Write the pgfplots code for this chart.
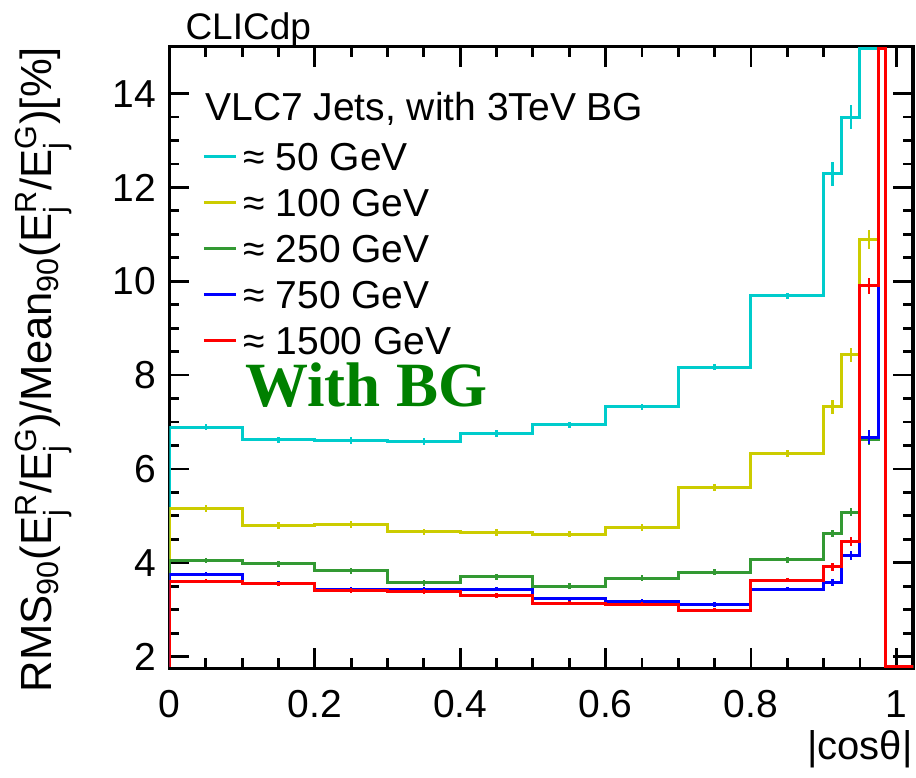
\documentclass[border=0pt]{standalone}
\usepackage{fontspec}
\setmainfont{Liberation Sans}
\newfontfamily\serifbg{Liberation Serif}
\usepackage{amsmath}
\usepackage{xcolor}
\usepackage{pgfplots}
\pgfplotsset{compat=1.18}

\definecolor{rcyan}{RGB}{0,204,204}
\definecolor{ryellow}{RGB}{204,204,0}
\definecolor{rgreen}{RGB}{51,153,51}
\definecolor{bggreen}{RGB}{0,128,0}
\newcommand\bigf{\fontsize{19.5}{22}\selectfont}

\pgfplotsset{
    errs/.style={mark=none, draw=none, forget plot,
        error bars/.cd, y dir=both, y explicit, error mark=none,
        error bar style={draw=#1, line width=1.3pt}},
}

\begin{document}
\begin{tikzpicture}
\begin{axis}[
    scale only axis,
    width=371.75pt, height=310.8pt,
    clip mode=individual,
    xmin=0, xmax=1.023,
    ymin=1.75, ymax=15,
    xtick={0,0.2,0.4,0.6,0.8,1},
    ytick={2,4,6,8,10,12,14},
    minor x tick num=3, minor y tick num=3,
    tick align=inside, tick pos=both,
    major tick length=10pt, minor tick length=5pt,
    tick style={black, line width=1.4pt},
    axis line style={line width=1.6pt},
    /pgf/number format/assume math mode=true,
    ticklabel style={font=\bigf},
    xticklabel style={yshift=-7.5pt},
    yticklabel style={xshift=-3.25pt},
    xlabel={|cosθ|},
    x label style={at={(axis description cs:1,0)}, anchor=north east,
        inner sep=0pt, yshift=-31pt, font=\fontsize{20}{22}\selectfont},
    ylabel={RMS$_{\text{90}}$(E$^{\text{R}}_{\text{j}}$/E$^{\text{G}}_{\text{j}}$)/Mean$_{\text{90}}$(E$^{\text{R}}_{\text{j}}$/E$^{\text{G}}_{\text{j}}$)[\%]},
    y label style={at={(axis description cs:-0.131,1)}, anchor=south east,
        inner sep=0pt, font=\fontsize{21.8}{24}\selectfont},
    legend style={draw=none, fill=none, at={(axis description cs:0.0438,0.847)},
        anchor=north west, font=\bigf, row sep=9.0pt, column sep=3pt, inner sep=0pt,
        nodes={inner sep=0pt, text height=14pt, text depth=0pt}},
    legend cell align=left,
    legend image code/.code={\draw[#1, line width=1.5pt] (0pt,0pt)--(16pt,0pt);},
    every axis plot/.append style={line width=1.5pt},
]

% step histograms: (bin low edge, value)
\addplot[color=rcyan, const plot] coordinates {
    (0,1.78) (0,6.89) (0.1,6.62) (0.2,6.61) (0.3,6.58) (0.4,6.75) (0.5,6.94)
    (0.6,7.32) (0.7,8.17) (0.8,9.69) (0.9,12.29) (0.925,13.50) (0.95,14.97)
    (0.975,14.97) (0.985,1.78) (1.03,1.78)
};
\addlegendentry{≈ 50 GeV}

\addplot[color=ryellow, const plot] coordinates {
    (0,1.78) (0,5.16) (0.1,4.79) (0.2,4.82) (0.3,4.66) (0.4,4.64) (0.5,4.61)
    (0.6,4.75) (0.7,5.60) (0.8,6.33) (0.9,7.32) (0.925,8.43) (0.95,10.89)
    (0.975,14.97) (0.985,1.78) (1.03,1.78)
};
\addlegendentry{≈ 100 GeV}

\addplot[color=rgreen, const plot] coordinates {
    (0,1.78) (0,4.05) (0.1,3.98) (0.2,3.83) (0.3,3.57) (0.4,3.70) (0.5,3.50)
    (0.6,3.67) (0.7,3.80) (0.8,4.06) (0.9,4.62) (0.925,5.08) (0.95,6.62)
    (0.975,14.97) (0.985,1.78) (1.03,1.78)
};
\addlegendentry{≈ 250 GeV}

\addplot[color=blue, const plot] coordinates {
    (0,1.78) (0,3.76) (0.1,3.56) (0.2,3.44) (0.3,3.44) (0.4,3.44) (0.5,3.23)
    (0.6,3.17) (0.7,3.11) (0.8,3.44) (0.9,3.58) (0.925,4.15) (0.95,6.68)
    (0.975,14.97) (0.985,1.78) (1.03,1.78)
};
\addlegendentry{≈ 750 GeV}

\addplot[color=red, const plot] coordinates {
    (0,1.78) (0,3.61) (0.1,3.55) (0.2,3.41) (0.3,3.39) (0.4,3.30) (0.5,3.14)
    (0.6,3.12) (0.7,2.99) (0.8,3.63) (0.9,3.91) (0.925,4.45) (0.95,9.90)
    (0.975,14.97) (0.985,1.78) (1.03,1.78)
};
\addlegendentry{≈ 1500 GeV}

% error bars at bin centres
\addplot[errs=rcyan] coordinates {
    (0.05,6.89) +- (0,0.07) (0.15,6.62) +- (0,0.07) (0.25,6.61) +- (0,0.07)
    (0.35,6.58) +- (0,0.07) (0.45,6.75) +- (0,0.07) (0.55,6.94) +- (0,0.07)
    (0.65,7.32) +- (0,0.07) (0.75,8.17) +- (0,0.07) (0.85,9.69) +- (0,0.07)
    (0.9125,12.29) +- (0,0.25) (0.9375,13.50) +- (0,0.25)
};
\addplot[errs=ryellow] coordinates {
    (0.05,5.16) +- (0,0.07) (0.15,4.79) +- (0,0.07) (0.25,4.82) +- (0,0.07)
    (0.35,4.66) +- (0,0.07) (0.45,4.64) +- (0,0.07) (0.55,4.61) +- (0,0.07)
    (0.65,4.75) +- (0,0.07) (0.75,5.60) +- (0,0.07) (0.85,6.33) +- (0,0.07)
    (0.9125,7.32) +- (0,0.15) (0.9375,8.43) +- (0,0.15) (0.9625,10.89) +- (0,0.2)
};
\addplot[errs=rgreen] coordinates {
    (0.05,4.05) +- (0,0.06) (0.15,3.98) +- (0,0.06) (0.25,3.83) +- (0,0.06)
    (0.35,3.57) +- (0,0.06) (0.45,3.70) +- (0,0.06) (0.55,3.50) +- (0,0.06)
    (0.65,3.67) +- (0,0.06) (0.75,3.80) +- (0,0.06) (0.85,4.06) +- (0,0.06)
    (0.9125,4.62) +- (0,0.07) (0.9375,5.08) +- (0,0.08) (0.9625,6.62) +- (0,0.12)
};
\addplot[errs=blue] coordinates {
    (0.05,3.76) +- (0,0.05) (0.15,3.56) +- (0,0.05) (0.25,3.44) +- (0,0.05)
    (0.35,3.44) +- (0,0.05) (0.45,3.44) +- (0,0.05) (0.55,3.23) +- (0,0.05)
    (0.65,3.17) +- (0,0.05) (0.75,3.11) +- (0,0.05) (0.85,3.44) +- (0,0.05)
    (0.9125,3.58) +- (0,0.08) (0.9375,4.15) +- (0,0.1) (0.9625,6.68) +- (0,0.15)
};
\addplot[errs=red] coordinates {
    (0.05,3.61) +- (0,0.05) (0.15,3.55) +- (0,0.05) (0.25,3.41) +- (0,0.05)
    (0.35,3.39) +- (0,0.05) (0.45,3.30) +- (0,0.05) (0.55,3.14) +- (0,0.05)
    (0.65,3.12) +- (0,0.05) (0.75,2.99) +- (0,0.05) (0.85,3.63) +- (0,0.05)
    (0.9125,3.91) +- (0,0.08) (0.9375,4.45) +- (0,0.1) (0.9625,9.90) +- (0,0.17)
};

\node[anchor=base west, inner sep=0pt, font=\bigf]
    at (axis description cs:0.0478,0.881) {VLC7 Jets, with 3TeV BG};
\node[anchor=base west, inner sep=0pt, text=bggreen,
    font=\serifbg\bfseries\fontsize{31.5}{34}\selectfont]
    at (axis description cs:0.1016,0.4204) {With BG};
\node[anchor=base west, inner sep=0pt, yshift=3.5pt, font=\fontsize{18.5}{20}\selectfont]
    at (axis description cs:0.021,1) {CLICdp};

\coordinate (bl) at (rel axis cs:0,0);
\coordinate (tr) at (rel axis cs:1,1);
\end{axis}
\pgfresetboundingbox
\path ([xshift=-84.75pt,yshift=-54.35pt]bl) rectangle ([xshift=1.5pt,yshift=23.35pt]tr);
\end{tikzpicture}
\end{document}
